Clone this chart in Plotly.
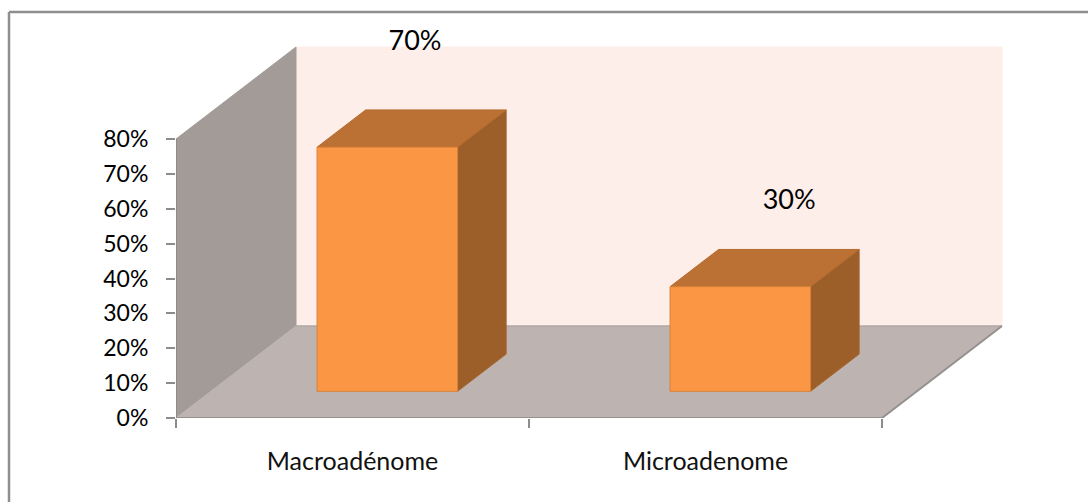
import plotly.graph_objects as go

# Chart data
categories = ["Macroadénome", "Microadenome"]
percent_values = [0.70, 0.30]
value_labels = ["70%", "30%"]
axis_ticks = [0, 0.1, 0.2, 0.3, 0.4, 0.5, 0.6, 0.7, 0.8]
axis_tick_labels = ["0%", "10%", "20%", "30%", "40%", "50%", "60%", "70%", "80%"]

# Oblique projection of the 3D box: the depth axis runs up and to the right.
PX_PER_CAT = 353.0
PX_PER_VAL = 348.75
DEPTH_DX = 120.0 / PX_PER_CAT
DEPTH_DY = 92.0 / PX_PER_VAL
TOP = 0.8

# Plot area on the page, leaving head room for the taller value label
PLOT_LEFT, PLOT_RIGHT, PLOT_TOP, PLOT_BOTTOM = 176, 1003, 20, 418
PLOT_W = PLOT_RIGHT - PLOT_LEFT
PLOT_H = PLOT_BOTTOM - PLOT_TOP


def proj(cat, val, depth=0.0):
    return cat + depth * DEPTH_DX, val + depth * DEPTH_DY


def face(points):
    xs, ys = zip(*[proj(*p) for p in points])
    return list(xs) + [xs[0]], list(ys) + [ys[0]]


fig = go.Figure()


def add_face(points, fill, line=None, width=1):
    x, y = face(points)
    fig.add_trace(go.Scatter(
        x=x, y=y, mode="lines", fill="toself", fillcolor=fill,
        line=dict(color=line or fill, width=width), cliponaxis=False,
        hoverinfo="skip", showlegend=False))


def add_line(points, color="#8c8c8c", width=1.5):
    xs, ys = zip(*[proj(*p) for p in points])
    fig.add_trace(go.Scatter(
        x=list(xs), y=list(ys), mode="lines", line=dict(color=color, width=width),
        cliponaxis=False, hoverinfo="skip", showlegend=False))


# Walls and floor
add_face([(0, 0, 1), (2, 0, 1), (2, TOP, 1), (0, TOP, 1)], "#fdeee9")
add_face([(0, 0, 0), (0, 0, 1), (0, TOP, 1), (0, TOP, 0)], "#a39b98")
add_face([(0, 0, 0), (2, 0, 0), (2, 0, 1), (0, 0, 1)], "#bdb4b1")
add_line([(0, 0, 1), (2, 0, 1)], "#a8a09d", 1)
add_line([(0, 0, 0), (2, 0, 0), (2, 0, 1)], "#969090", 2)
add_line([(0, 0, 0), (0, TOP, 0)], "#8c8c8c", 2)

# Bars: front face, top face and right side, each built from its value
BAR_HALF = 0.199
DEPTH_FRONT = 0.29
DEPTH_BACK = 0.695
for i, v in enumerate(percent_values):
    c = i + 0.5
    l, r = c - BAR_HALF, c + BAR_HALF
    d0, d1 = DEPTH_FRONT, DEPTH_BACK
    add_face([(r, 0, d0), (r, 0, d1), (r, v, d1), (r, v, d0)], "#9c5f2a", "#a4652e")
    add_face([(l, v, d0), (r, v, d0), (r, v, d1), (l, v, d1)], "#bb7133", "#b5692c")
    add_face([(l, 0, d0), (r, 0, d0), (r, v, d0), (l, v, d0)], "#fb9744", "#d98238")

# Value labels sit in the free space above each bar
label_offsets = [0.376, 0.320]
fig.add_trace(go.Scatter(
    x=[0.677, 1.737],
    y=[v + o for v, o in zip(percent_values, label_offsets)],
    mode="text", text=value_labels, textposition="middle center",
    textfont=dict(family="Lato", size=27, color="#000000"),
    cliponaxis=False, hoverinfo="skip", showlegend=False))


def page_x(px):
    return (px - PLOT_LEFT) / PLOT_W


def page_y(px):
    return (PLOT_BOTTOM - px) / PLOT_H


# Frame around the chart: left and top edges only, running off the page
frame = dict(color="#8f8f8f", width=2.5)
fig.update_layout(
    width=1088, height=502, autosize=False,
    margin=dict(l=PLOT_LEFT, r=1088 - PLOT_RIGHT, t=PLOT_TOP, b=502 - PLOT_BOTTOM),
    paper_bgcolor="#ffffff", plot_bgcolor="rgba(0,0,0,0)",
    showlegend=False,
    shapes=[
        dict(type="line", xref="paper", yref="paper",
             x0=page_x(9), x1=page_x(9), y0=page_y(502), y1=page_y(12), line=frame),
        dict(type="line", xref="paper", yref="paper",
             x0=page_x(9), x1=page_x(1088), y0=page_y(12), y1=page_y(12), line=frame),
    ],
)
fig.update_xaxes(
    range=[0, PLOT_W / PX_PER_CAT], showgrid=False, zeroline=False, showline=False,
    tickmode="array", tickvals=[0.5, 1.5], ticktext=categories, ticks="",
    ticklabelstandoff=26, tickfont=dict(family="Lato", size=25, color="#111111"),
    minor=dict(tickmode="array", tickvals=[0, 1, 2], ticks="outside", ticklen=9,
               tickwidth=2, tickcolor="#8c8c8c", showgrid=False),
)
fig.update_yaxes(
    range=[0, PLOT_H / PX_PER_VAL], showgrid=False, zeroline=False, showline=False,
    tickmode="array", tickvals=axis_ticks, ticktext=axis_tick_labels,
    ticks="outside", ticklen=9, tickwidth=2, tickcolor="#8c8c8c",
    ticklabelstandoff=13,
    tickfont=dict(family="Lato", size=23, color="#000000"),
)

fig.write_html("out.html", config=dict(displayModeBar=False))
